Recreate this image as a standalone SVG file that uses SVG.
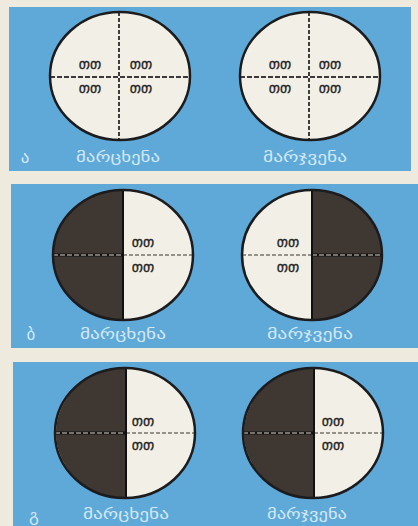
<svg xmlns="http://www.w3.org/2000/svg" width="418" height="526" viewBox="0 0 418 526">
<defs>
<style>
.panel{fill:#5ea9d8}
.light{fill:#f2efe6}
.dark{fill:#3f3732}
.rim{fill:none;stroke:#1c1c1e;stroke-width:2.5}
.vd{stroke:#2a2a2a;stroke-width:1.8;stroke-dasharray:4 2}
.hd{stroke:#3a3a3a;stroke-width:1.8;stroke-dasharray:5 2}
.vs{stroke:#111;stroke-width:2}
.hs{stroke:#111;stroke-width:3}
.hl{stroke:#9a958c;stroke-width:1.3;stroke-dasharray:5 2}
.hg{stroke:#77726b;stroke-width:1.5;stroke-dasharray:4 2}
.q{font-family:"DejaVu Sans",sans-serif;font-size:14px;fill:#222;stroke:#222;stroke-width:0.3;text-anchor:middle}
.lab{font-family:"DejaVu Sans",sans-serif;font-size:15px;fill:#d3e8f5;text-anchor:middle}
.let{font-family:"DejaVu Sans",sans-serif;font-size:17px;fill:#d3e8f5;text-anchor:middle}
</style>
</defs>
<rect width="418" height="526" fill="#eeeadd"/>
<rect class="panel" x="9" y="7" width="402" height="164"/>
<rect class="panel" x="11" y="184" width="407" height="164"/>
<rect class="panel" x="13" y="362" width="405" height="164"/>

<!-- Panel a -->
<g id="a-left">
<ellipse class="light" cx="120" cy="76" rx="70" ry="64"/>
<line class="vd" x1="119" y1="12" x2="119" y2="140"/>
<line class="hd" x1="50" y1="77" x2="190" y2="77"/>
<ellipse class="rim" cx="120" cy="76" rx="70" ry="64"/>
<text class="q" x="90" y="69">თთ</text><text class="q" x="141" y="69">თთ</text>
<text class="q" x="90" y="93">თთ</text><text class="q" x="141" y="93">თთ</text>
</g>
<g id="a-right">
<ellipse class="light" cx="310" cy="76" rx="70" ry="64"/>
<line class="vd" x1="309" y1="12" x2="309" y2="140"/>
<line class="hd" x1="240" y1="77" x2="380" y2="77"/>
<ellipse class="rim" cx="310" cy="76" rx="70" ry="64"/>
<text class="q" x="280" y="69">თთ</text><text class="q" x="330" y="69">თთ</text>
<text class="q" x="280" y="93">თთ</text><text class="q" x="330" y="93">თთ</text>
</g>
<g id="a-labels">
<text class="let" x="25" y="163">ა</text>
<text class="lab" x="118" y="162" textLength="84" lengthAdjust="spacingAndGlyphs">მარცხენა</text>
<text class="lab" x="305" y="162" textLength="84" lengthAdjust="spacingAndGlyphs">მარჯვენა</text>
</g>

<!-- Panel b -->
<g id="b-left">
<ellipse class="light" cx="123" cy="255" rx="70" ry="65"/>
<path class="dark" d="M123,190 A70,65 0 0 0 123,320 Z"/>
<line class="hs" x1="53" y1="255" x2="123" y2="255"/>
<line class="hl" x1="53" y1="255" x2="123" y2="255"/>
<line class="hg" x1="123" y1="255" x2="193" y2="255"/>
<line class="vs" x1="123" y1="190" x2="123" y2="320"/>
<ellipse class="rim" cx="123" cy="255" rx="70" ry="65"/>
<text class="q" x="143" y="247">თთ</text>
<text class="q" x="143" y="272">თთ</text>
</g>
<g id="b-right">
<ellipse class="light" cx="312" cy="255" rx="70" ry="65"/>
<path class="dark" d="M312,190 A70,65 0 0 1 312,320 Z"/>
<line class="hs" x1="312" y1="255" x2="382" y2="255"/>
<line class="hl" x1="312" y1="255" x2="382" y2="255"/>
<line class="hg" x1="242" y1="255" x2="312" y2="255"/>
<line class="vs" x1="312" y1="190" x2="312" y2="320"/>
<ellipse class="rim" cx="312" cy="255" rx="70" ry="65"/>
<text class="q" x="288" y="247">თთ</text>
<text class="q" x="288" y="272">თთ</text>
</g>
<g id="b-labels">
<text class="let" x="31" y="340">ბ</text>
<text class="lab" x="123" y="339" textLength="86" lengthAdjust="spacingAndGlyphs">მარცხენა</text>
<text class="lab" x="310" y="339" textLength="86" lengthAdjust="spacingAndGlyphs">მარჯვენა</text>
</g>

<!-- Panel g -->
<g id="g-left">
<ellipse class="light" cx="125" cy="433" rx="70" ry="65"/>
<path class="dark" d="M126,368 A70,65 0 0 0 126,498 Z"/>
<line class="hs" x1="55" y1="433" x2="126" y2="433"/>
<line class="hl" x1="55" y1="433" x2="126" y2="433"/>
<line class="hg" x1="126" y1="433" x2="195" y2="433"/>
<line class="vs" x1="126" y1="368" x2="126" y2="498"/>
<ellipse class="rim" cx="125" cy="433" rx="70" ry="65"/>
<text class="q" x="143" y="426">თთ</text>
<text class="q" x="143" y="450">თთ</text>
</g>
<g id="g-right">
<ellipse class="light" cx="313" cy="433" rx="70" ry="65"/>
<path class="dark" d="M314,368 A70,65 0 0 0 314,498 Z"/>
<line class="hs" x1="243" y1="433" x2="314" y2="433"/>
<line class="hl" x1="243" y1="433" x2="314" y2="433"/>
<line class="hg" x1="314" y1="433" x2="383" y2="433"/>
<line class="vs" x1="314" y1="368" x2="314" y2="498"/>
<ellipse class="rim" cx="313" cy="433" rx="70" ry="65"/>
<text class="q" x="333" y="426">თთ</text>
<text class="q" x="333" y="450">თთ</text>
</g>
<g id="g-labels">
<text class="let" x="34" y="521">გ</text>
<text class="lab" x="126" y="519" textLength="86" lengthAdjust="spacingAndGlyphs">მარცხენა</text>
<text class="lab" x="307" y="519" textLength="80" lengthAdjust="spacingAndGlyphs">მარჯვენა</text>
</g>
</svg>
